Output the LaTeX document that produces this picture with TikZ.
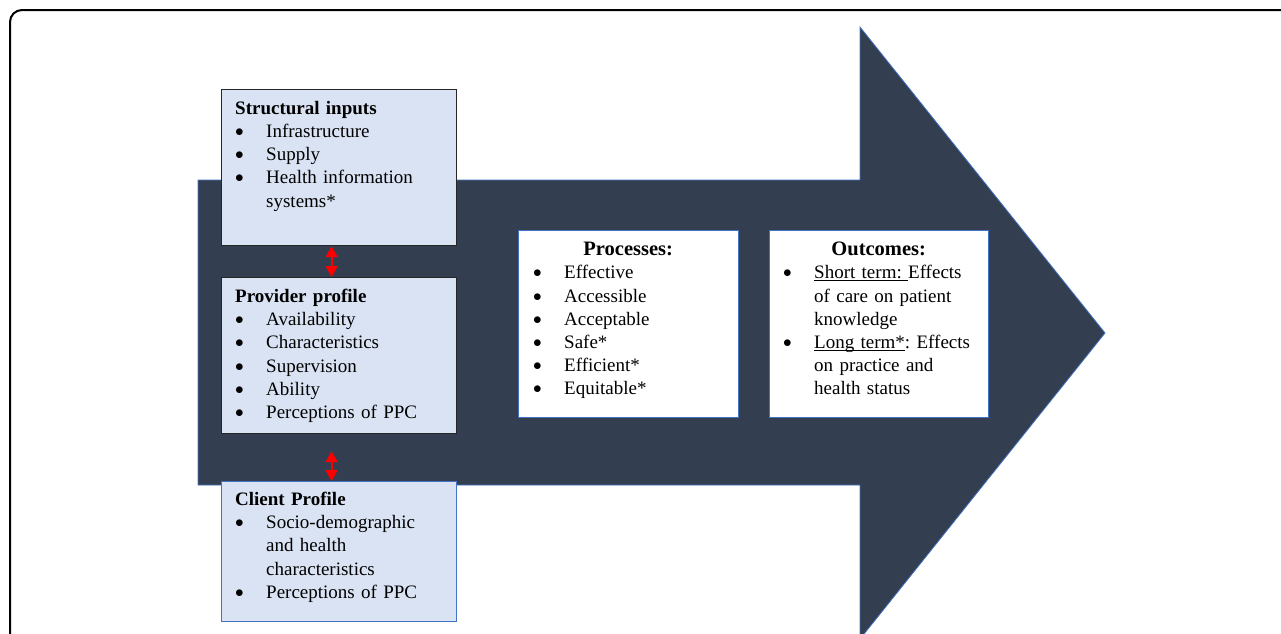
\documentclass[tikz,border=0pt]{standalone}
\usepackage{fontspec}
\setmainfont{Liberation Serif}
\usetikzlibrary{arrows.meta}

\definecolor{arrowfill}{HTML}{333F50}
\definecolor{boxfill}{HTML}{DAE3F3}
\definecolor{edgeblue}{HTML}{4472C4}

% one bullet line with hanging indent
\newcommand{\bul}[1]{\par\noindent\hangindent=31pt\hangafter=1%
  \makebox[31pt][l]{\raisebox{1pt}{$\bullet$}}#1\par}
\newcommand{\ulin}[1]{\underline{\smash{#1}}}
\newcommand{\headfont}{\fontsize{20.5pt}{23.2pt}\selectfont\bfseries}

\tikzset{
  inbox/.style={draw=black!85, fill=boxfill, line width=1.2pt, anchor=north west, inner sep=0pt},
  clibox/.style={draw=edgeblue, fill=boxfill, line width=1.2pt, anchor=north west, inner sep=0pt},
  qualbox/.style={draw=edgeblue, fill=white, line width=1.2pt, anchor=north west, inner sep=0pt},
  boxtext/.style={anchor=north west, inner sep=0pt, align=left,
    font=\fontsize{19pt}{23.2pt}\selectfont\frenchspacing},
  link/.style={red, line width=1.8pt, {Triangle[length=11pt,width=12pt]}-{Triangle[length=11pt,width=12pt]}}
}

\begin{document}
\begin{tikzpicture}[x=1pt, y=-1pt]
    \useasboundingbox (0,0) rectangle (1281,633);
    \clip (0,0) rectangle (1281,633);
    % outer frame
    \draw[line width=2pt, rounded corners=12pt] (10,10) rectangle (1320,680);
    % big arrow
    \draw[fill=arrowfill, draw=edgeblue, line width=0.8pt]
    (198,180) -- (860,180) -- (860,27) -- (1105,333) --
    (860,639) -- (860,485) -- (198,485) -- cycle;

    \node[inbox, minimum width=235pt, minimum height=156pt] (sin) at (221,89) {};
    \node[inbox, minimum width=235pt, minimum height=156pt] (prov) at (221,277) {};
    \node[clibox, minimum width=235pt, minimum height=140pt] (cli) at (221,481) {};
    \node[qualbox, minimum width=220pt, minimum height=187pt] (proc) at (518,230) {};
    \node[qualbox, minimum width=219pt, minimum height=187pt] (outc) at (769,230) {};

    \node[boxtext, text width=215pt] (sintxt) at ([xshift=14pt, yshift=-12pt]sin.north west)
    {\noindent\textbf{Structural inputs}
      \bul{Infrastructure}
      \bul{Supply}
      \bul{Health information\newline systems*}};
    \node[boxtext, text width=215pt] (provtxt) at ([xshift=14pt, yshift=-12pt]prov.north west)
    {\noindent\textbf{Provider profile}
      \bul{Availability}
      \bul{Characteristics}
      \bul{Supervision}
      \bul{Ability}
      \bul{Perceptions of PPC}};
    \node[boxtext, text width=215pt] (clitxt) at ([xshift=14pt, yshift=-11pt]cli.north west)
    {\noindent\textbf{Client Profile}
      \bul{Socio-demographic\newline and health\newline characteristics}
      \bul{Perceptions of PPC}};
    \node[boxtext, text width=190pt] (proctxt) at ([xshift=15pt, yshift=-12pt]proc.north west)
    {{\centering\headfont Processes:\par}
      \bul{Effective}
      \bul{Accessible}
      \bul{Acceptable}
      \bul{Safe*}
      \bul{Efficient*}
      \bul{Equitable*}};
    \node[boxtext, text width=191pt] (outctxt) at ([xshift=14pt, yshift=-12pt]outc.north west)
    {{\centering\headfont Outcomes:\par}
      \bul{\ulin{Short term: }Effects\newline of care on patient\newline knowledge}
      \bul{\ulin{Long term*}: Effects\newline on practice and\newline health status}};

    % links between the left boxes
    \draw[link] ([xshift=-7.5pt]sin.south) -- ([xshift=-7.5pt]prov.north);
    \draw[link, shorten <=17pt] ([xshift=-7.5pt]prov.south) -- ([xshift=-7.5pt]cli.north);
\end{tikzpicture}
\end{document}
